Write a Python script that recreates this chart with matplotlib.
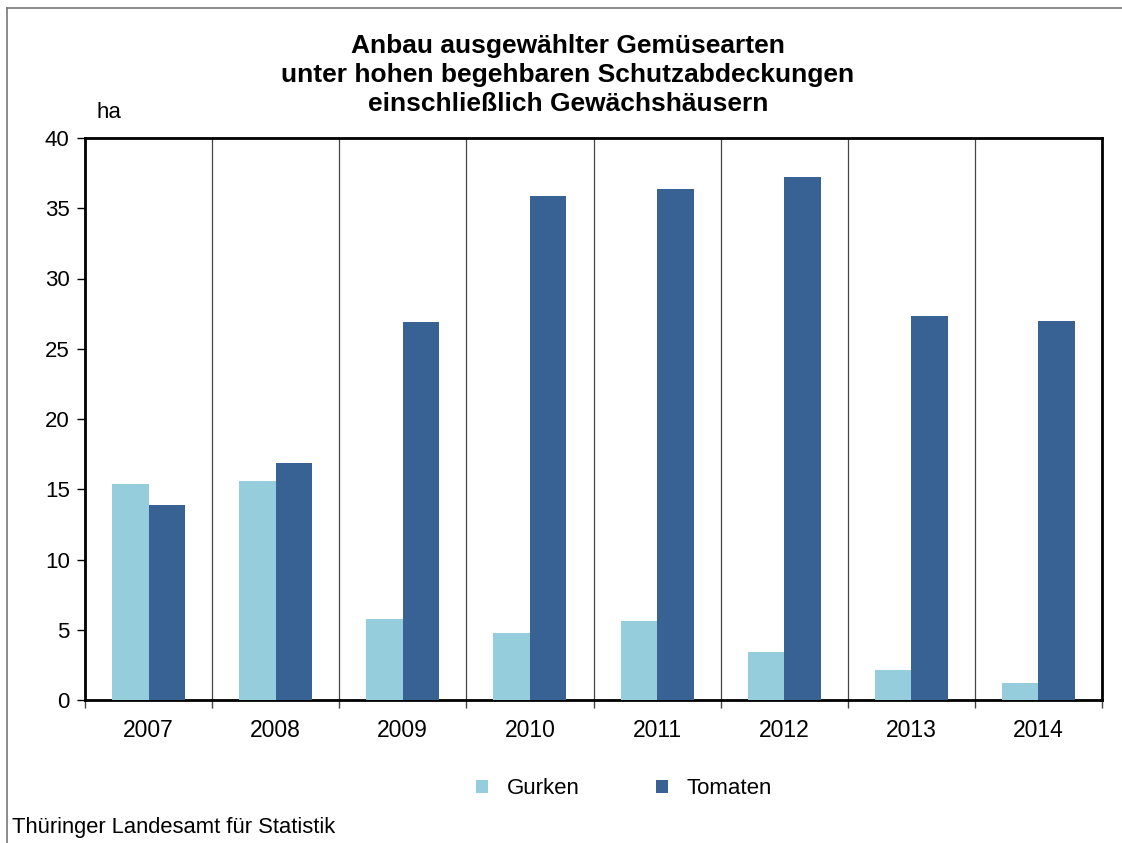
import numpy as np
import matplotlib.pyplot as plt
from matplotlib.lines import Line2D

# data
years = ["2007", "2008", "2009", "2010", "2011", "2012", "2013", "2014"]
gurken = [15.4, 15.6, 5.8, 4.8, 5.6, 3.4, 2.1, 1.2]
tomaten = [13.9, 16.9, 26.9, 35.9, 36.4, 37.2, 27.3, 27.0]

C_GURKEN = "#95cddd"
C_TOMATEN = "#376293"

W, H = 1122, 843
plt.rcParams['font.family'] = ['Liberation Sans', 'DejaVu Sans']

def fy(py):
    # pixel row from top -> figure fraction
    return 1 - py / H

fig = plt.figure(figsize=(W/100, H/100), dpi=100)
ax = fig.add_axes([85/W, fy(700), 1017/W, 562/H])

x = np.arange(len(years))
w = 0.287
ax.bar(x - w/2, gurken, w, color=C_GURKEN, label="Gurken", zorder=3)
ax.bar(x + w/2, tomaten, w, color=C_TOMATEN, label="Tomaten", zorder=3)

ax.set_xlim(-0.5, len(years) - 0.5)
ax.set_ylim(0, 40)
ax.set_yticks(range(0, 41, 5))
ax.tick_params(axis='y', labelsize=16, length=6, width=1, direction='out', pad=5)

# category labels centred, ticks at the boundaries
ax.set_xticks(x)
ax.set_xticklabels(years)
ax.tick_params(axis='x', which='major', length=0, labelsize=16.5, pad=14)
ax.set_xticks(np.arange(-0.5, len(years)), minor=True)
ax.tick_params(axis='x', which='minor', length=6, width=1, color='#444444')

for b in np.arange(0.5, len(years) - 0.5):
    ax.axvline(b, color='#444444', lw=0.9, zorder=2)

for s in ax.spines.values():
    s.set_linewidth(2)
    s.set_color('black')

fig.text(97/W, fy(112), "ha", fontsize=16, va='center', ha='left')

fig.text(568/W, fy(75), "Anbau ausgewählter Gemüsearten\nunter hohen begehbaren Schutzabdeckungen\neinschließlich Gewächshäusern",
         ha='center', va='center', fontsize=19, fontweight='bold', linespacing=1.28)

fig.legend(loc='center', bbox_to_anchor=(624/W, fy(789)), ncol=2, frameon=False,
           fontsize=16, handlelength=0.55, handleheight=0.55, columnspacing=3.4, handletextpad=0.85)

fig.text(12/W, fy(828), "Thüringer Landesamt für Statistik", fontsize=15.8, va='center', ha='left')

# outer frame: left and top edges only
fig.add_artist(Line2D([7/W, 7/W], [0, fy(8)], color='#777777', lw=1.2))
fig.add_artist(Line2D([7/W, 1], [fy(8), fy(8)], color='#777777', lw=1.2))

fig.savefig("out.png", dpi=100)
